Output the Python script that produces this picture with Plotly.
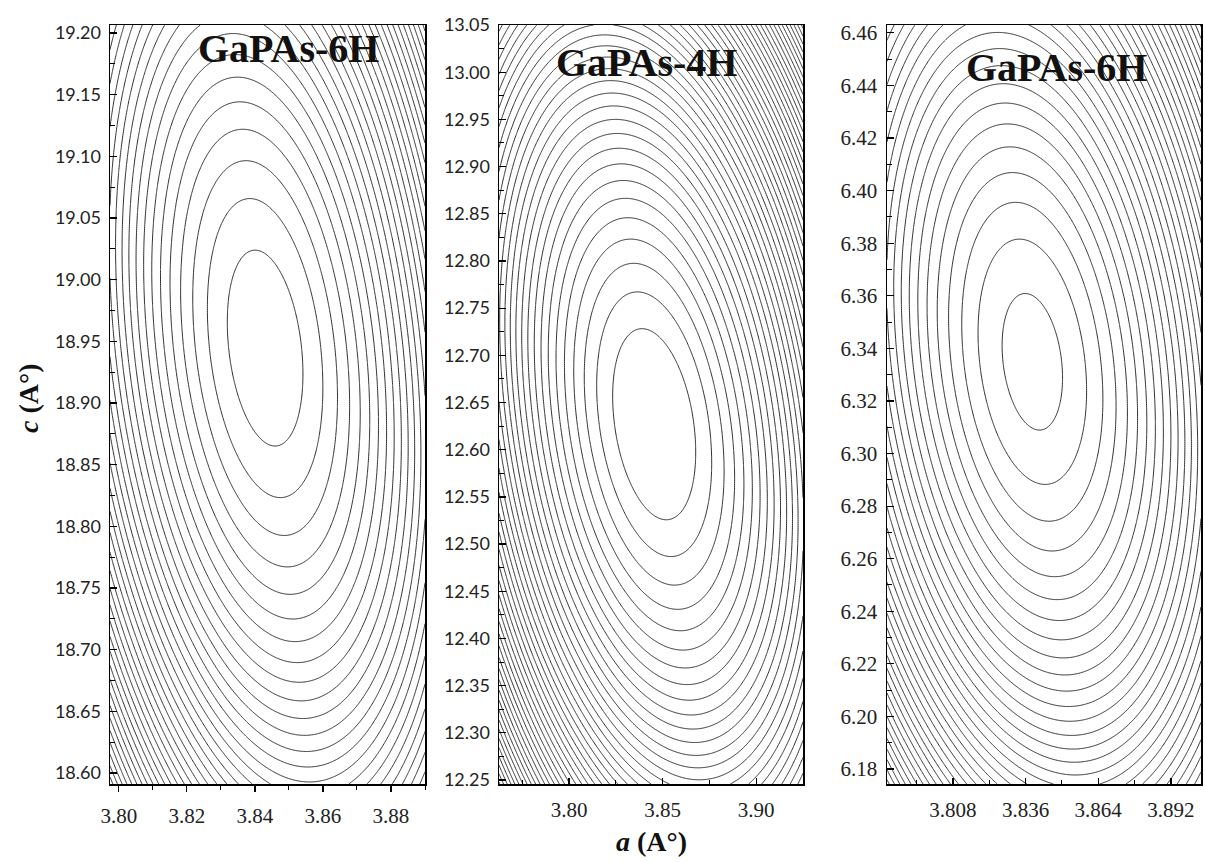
import numpy as np
import plotly.graph_objects as go

# ---- data (quadratic energy-surface fits per panel) ----
panel_titles = ["GaPAs-6H", "GaPAs-4H", "GaPAs-6H"]
a_range = [[3.7974, 3.8900], [3.7626, 3.9250], [3.7826, 3.9036]]
c_range = [[18.591, 19.2065], [12.2458, 13.050], [6.1743, 6.4630]]
a0_vals = [3.8430, 3.8455, 3.8386]        # minimum position in a
c0_vals = [18.9445, 12.627, 6.3349]       # minimum position in c
coef_aa = [1.0, 1.0, 1.0]
coef_cc = [0.0196, 0.048, 0.201]
coef_ac = [0.074, 0.128, 0.212]
level_start = [1.15, 4.5, 1.28]
level_step = [1.53, 4.13, 2.85]

x_tick0 = [3.80, 3.80, 3.808]
x_dtick = [0.02, 0.05, 0.028]
x_fmt = [".2f", ".2f", ".3f"]
y_tick0 = [18.60, 12.25, 6.18]
y_dtick = [0.05, 0.05, 0.02]
y_fmt = [".2f", ".2f", ".2f"]

x_domains = [[110/1205, 425/1205], [499/1205, 803/1205], [887/1205, 1201/1205]]
y_domain = [(862-784)/862, (862-25)/862]

fig = go.Figure()
for i in range(3):
    a = np.linspace(a_range[i][0], a_range[i][1], 400)
    c = np.linspace(c_range[i][0], c_range[i][1], 400)
    A, C = np.meshgrid(a, c)
    u = A - a0_vals[i]
    v = C - c0_vals[i]
    z = 1e4 * (coef_aa[i]*u**2 + coef_cc[i]*v**2 + coef_ac[i]*u*v)
    sfx = "" if i == 0 else str(i+1)
    fig.add_trace(go.Contour(
        x=a, y=c, z=z,
        contours=dict(coloring="lines", start=level_start[i], end=2000, size=level_step[i]),
        colorscale=[[0, "#2e2e2e"], [1, "#2e2e2e"]],
        line=dict(width=1, smoothing=1.0),
        showscale=False, hoverinfo="skip",
        xaxis="x"+sfx, yaxis="y"+sfx,
    ))

serif = "Liberation Serif"
sans = "Lato"
layout = dict(
    width=1205, height=862,
    margin=dict(l=0, r=0, t=0, b=0, autoexpand=False),
    paper_bgcolor="white", plot_bgcolor="white",
    showlegend=False,
)
for i in range(3):
    sfx = "" if i == 0 else str(i+1)
    xticks_dir = "outside" if i == 0 else "inside"
    layout["xaxis"+sfx] = dict(
        domain=x_domains[i], range=a_range[i], anchor="y"+sfx,
        tick0=x_tick0[i], dtick=x_dtick[i], tickformat=x_fmt[i],
        ticks=xticks_dir, ticklen=6, tickwidth=1.2, tickcolor="black",
        minor=dict(tick0=x_tick0[i], dtick=x_dtick[i]/2, ticks=xticks_dir, ticklen=4, tickwidth=1, tickcolor="black"),
        showline=True, linecolor="black", linewidth=1.5, mirror=True,
        showgrid=False, zeroline=False, automargin=False,
        tickfont=dict(family=serif, size=21, color="#222"),
        ticklabelstandoff=6,
    )
    layout["yaxis"+sfx] = dict(
        domain=y_domain, range=c_range[i], anchor="x"+sfx,
        tick0=y_tick0[i], dtick=y_dtick[i], tickformat=y_fmt[i],
        ticks="inside", ticklen=7, tickwidth=1.2, tickcolor="black",
        minor=dict(tick0=y_tick0[i], dtick=y_dtick[i]/2, ticks="inside", ticklen=5, tickwidth=1, tickcolor="black"),
        showline=True, linecolor="black", linewidth=1.5, mirror=True,
        showgrid=False, zeroline=False, automargin=False,
        tickfont=dict(family=(serif if i == 2 else sans), size=(21 if i == 2 else 18), color="#222"),
        ticklabelstandoff=4,
    )
fig.update_layout(**layout)

title_pos = [(288, 49), (646, 62), (1056, 67)]
for i in range(3):
    x, y = title_pos[i]
    fig.add_annotation(x=x/1205, y=1-y/862, xref="paper", yref="paper",
                       text="<b>%s</b>" % panel_titles[i], showarrow=False,
                       font=dict(family=serif, size=40, color="#111"),
                       xanchor="center", yanchor="middle")

fig.add_annotation(x=651/1205, y=1-841/862, xref="paper", yref="paper",
                   text="<b><i>a</i> (A°)</b>", showarrow=False,
                   font=dict(family=serif, size=28, color="#111"),
                   xanchor="center", yanchor="middle")
fig.add_annotation(x=28/1205, y=1-398/862, xref="paper", yref="paper",
                   text="<b><i>c</i> (A°)</b>", showarrow=False, textangle=-90,
                   font=dict(family=serif, size=28, color="#111"),
                   xanchor="center", yanchor="middle")

fig.write_html("out.html",
               config={"displayModeBar": False, "staticPlot": True},
               post_script="document.body.style.margin='0px';document.body.style.overflow='hidden';")
